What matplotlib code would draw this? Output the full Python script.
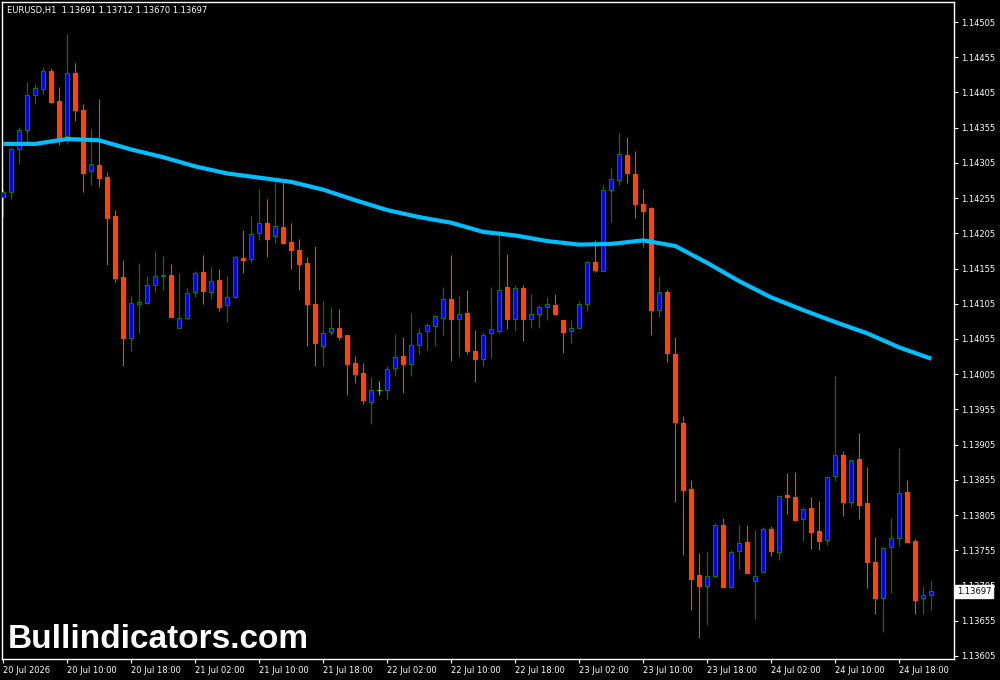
import numpy as np
import matplotlib
matplotlib.use('Agg')
import matplotlib.pyplot as plt

# EURUSD H1 bars, 20 Jul 02:00 -> 24 Jul 22:00
opens = [1.14256, 1.14263, 1.14325, 1.14352, 1.14402, 1.14410, 1.14435, 1.14393, 1.14343, 1.14432,
         1.14380, 1.14293, 1.14302, 1.14285, 1.14230, 1.14143, 1.14057, 1.14104, 1.14106, 1.14131,
         1.14145, 1.14146, 1.14071, 1.14085, 1.14121, 1.14150, 1.14121, 1.14139, 1.14103, 1.14115,
         1.14170, 1.14168, 1.14205, 1.14220, 1.14201, 1.14214, 1.14192, 1.14182, 1.14163, 1.14105,
         1.14045, 1.14065, 1.14071, 1.14060, 1.14021, 1.14007, 1.13965, 1.13983, 1.13983, 1.14014,
         1.14031, 1.14020, 1.14046, 1.14066, 1.14074, 1.14085, 1.14112, 1.14084, 1.14092, 1.14038,
         1.14027, 1.14063, 1.14067, 1.14129, 1.14084, 1.14127, 1.14084, 1.14091, 1.14101, 1.14103,
         1.14082, 1.14067, 1.14071, 1.14105, 1.14165, 1.14152, 1.14267, 1.14280, 1.14316, 1.14289,
         1.14247, 1.14241, 1.14096, 1.14121, 1.14034, 1.13936, 1.13842, 1.13720, 1.13705, 1.13719,
         1.13791, 1.13703, 1.13754, 1.13767, 1.13711, 1.13724, 1.13785, 1.13753, 1.13833, 1.13831,
         1.13799, 1.13815, 1.13782, 1.13769, 1.13861, 1.13890, 1.13824, 1.13884, 1.13822, 1.13738,
         1.13688, 1.13759, 1.13773, 1.13838, 1.13768, 1.13687, 1.13691]
highs = [1.14268, 1.14327, 1.14356, 1.14420, 1.14417, 1.14441, 1.14440, 1.14413, 1.14488, 1.14447,
         1.14389, 1.14353, 1.14396, 1.14292, 1.14238, 1.14167, 1.14116, 1.14163, 1.14145, 1.14180,
         1.14173, 1.14161, 1.14148, 1.14127, 1.14151, 1.14174, 1.14157, 1.14154, 1.14145, 1.14173,
         1.14210, 1.14230, 1.14268, 1.14254, 1.14279, 1.14278, 1.14220, 1.14197, 1.14172, 1.14187,
         1.14109, 1.14100, 1.14097, 1.14060, 1.14031, 1.14021, 1.14001, 1.13995, 1.14016, 1.14062,
         1.14058, 1.14092, 1.14070, 1.14077, 1.14089, 1.14129, 1.14174, 1.14116, 1.14124, 1.14068,
         1.14065, 1.14129, 1.14208, 1.14176, 1.14131, 1.14131, 1.14119, 1.14103, 1.14115, 1.14119,
         1.14082, 1.14082, 1.14109, 1.14166, 1.14195, 1.14273, 1.14298, 1.14348, 1.14342, 1.14322,
         1.14268, 1.14242, 1.14143, 1.14126, 1.14058, 1.13946, 1.13855, 1.13751, 1.13752, 1.13794,
         1.13801, 1.13755, 1.13791, 1.13791, 1.13784, 1.13788, 1.13789, 1.13832, 1.13865, 1.13866,
         1.13816, 1.13831, 1.13825, 1.13860, 1.14002, 1.13896, 1.13884, 1.13921, 1.13873, 1.13774,
         1.13759, 1.13801, 1.13900, 1.13855, 1.13771, 1.13704, 1.13712]
lows = [1.14228, 1.14254, 1.14304, 1.14335, 1.14388, 1.14403, 1.14390, 1.14331, 1.14332, 1.14365,
        1.14264, 1.14274, 1.14271, 1.14160, 1.14136, 1.14016, 1.14038, 1.14064, 1.14104, 1.14122,
        1.14125, 1.14086, 1.14071, 1.14085, 1.14115, 1.14105, 1.14112, 1.14095, 1.14079, 1.14113,
        1.14148, 1.14165, 1.14195, 1.14172, 1.14191, 1.14190, 1.14155, 1.14125, 1.14045, 1.14016,
        1.14017, 1.14060, 1.14054, 1.13976, 1.13993, 1.13962, 1.13935, 1.13976, 1.13970, 1.14003,
        1.13979, 1.14003, 1.14033, 1.14040, 1.14045, 1.14060, 1.14024, 1.14030, 1.14033, 1.13994,
        1.14016, 1.14028, 1.14064, 1.14069, 1.14067, 1.14052, 1.14071, 1.14071, 1.14082, 1.14091,
        1.14035, 1.14050, 1.14071, 1.14095, 1.14150, 1.14152, 1.14221, 1.14273, 1.14277, 1.14227,
        1.14186, 1.14060, 1.14086, 1.14023, 1.13824, 1.13749, 1.13670, 1.13631, 1.13649, 1.13716,
        1.13703, 1.13702, 1.13729, 1.13723, 1.13658, 1.13724, 1.13747, 1.13741, 1.13807, 1.13797,
        1.13768, 1.13757, 1.13756, 1.13763, 1.13854, 1.13803, 1.13817, 1.13800, 1.13702, 1.13665,
        1.13639, 1.13695, 1.13761, 1.13767, 1.13665, 1.13665, 1.13670]
closes = [1.14263, 1.14325, 1.14352, 1.14401, 1.14411, 1.14435, 1.14392, 1.14341, 1.14432, 1.14380,
          1.14291, 1.14303, 1.14284, 1.14227, 1.14142, 1.14057, 1.14106, 1.14107, 1.14131, 1.14145,
          1.14146, 1.14086, 1.14085, 1.14120, 1.14148, 1.14123, 1.14138, 1.14101, 1.14115, 1.14171,
          1.14167, 1.14204, 1.14219, 1.14197, 1.14215, 1.14191, 1.14182, 1.14162, 1.14104, 1.14050,
          1.14064, 1.14071, 1.14058, 1.14020, 1.14006, 1.13969, 1.13983, 1.13983, 1.14013, 1.14029,
          1.14020, 1.14047, 1.14064, 1.14075, 1.14087, 1.14112, 1.14084, 1.14091, 1.14038, 1.14027,
          1.14060, 1.14069, 1.14125, 1.14083, 1.14128, 1.14084, 1.14091, 1.14100, 1.14104, 1.14091,
          1.14065, 1.14071, 1.14104, 1.14164, 1.14153, 1.14266, 1.14282, 1.14317, 1.14290, 1.14246,
          1.14236, 1.14096, 1.14121, 1.14035, 1.13937, 1.13841, 1.13714, 1.13704, 1.13718, 1.13791,
          1.13703, 1.13752, 1.13765, 1.13723, 1.13719, 1.13785, 1.13754, 1.13832, 1.13830, 1.13798,
          1.13814, 1.13781, 1.13768, 1.13859, 1.13890, 1.13824, 1.13883, 1.13820, 1.13739, 1.13688,
          1.13758, 1.13773, 1.13837, 1.13767, 1.13685, 1.13691, 1.13697]

# moving average, read every 4th bar
ma_bars = list(range(0, 117, 4))
ma_vals = [1.14332, 1.14332, 1.14339, 1.14337, 1.14324, 1.14313, 1.14300, 1.14290, 1.14284, 1.14278,
           1.14267, 1.14252, 1.14238, 1.14228, 1.14220, 1.14207, 1.14202, 1.14194, 1.14189, 1.14190,
           1.14195, 1.14187, 1.14163, 1.14137, 1.14114, 1.14096, 1.14079, 1.14063, 1.14043, 1.14027]

xlabels = ['20 Jul 2026', '20 Jul 10:00', '20 Jul 18:00', '21 Jul 02:00', '21 Jul 10:00',
           '21 Jul 18:00', '22 Jul 02:00', '22 Jul 10:00', '22 Jul 18:00', '23 Jul 02:00',
           '23 Jul 10:00', '23 Jul 18:00', '24 Jul 02:00', '24 Jul 10:00', '24 Jul 18:00']
yticks = [1.13605 + 0.0005 * k for k in range(19)]

O = np.array(opens); H = np.array(highs); L = np.array(lows); C = np.array(closes)
x = np.arange(len(O))
bull = C > O
doji = C == O

BULL = '#0000ff'
EDGE = '#008000'
BEAR = '#ff4500'
DOJI = '#00ff00'

plt.rcParams['font.family'] = ['DejaVu Sans']
fig = plt.figure(figsize=(10, 6.8), dpi=100, facecolor='black')
ax = fig.add_axes([0.002, 21 / 680, 0.952, 657 / 680], facecolor='black')

wick_col = np.where(doji, DOJI, np.where(bull, EDGE, BEAR))
ax.vlines(x, L, H, colors=wick_col, linewidth=0.8, zorder=2)

body_h = np.abs(C - O)
body_b = np.minimum(O, C)
face = np.where(doji, DOJI, np.where(bull, BULL, BEAR))
edge = np.where(doji, DOJI, np.where(bull, EDGE, BEAR))
ax.bar(x, body_h, bottom=body_b, width=0.52, color=face, edgecolor=edge, linewidth=0.8, zorder=3)

ax.plot(ma_bars, ma_vals, color='#00bfff', linewidth=3, solid_capstyle='butt', zorder=4)

ax.set_xlim(-0.16, 118.84)
ax.set_ylim(1.136007, 1.145334)

for s in ax.spines.values():
    s.set_color('white')
    s.set_linewidth(1)

ax.yaxis.tick_right()
ax.set_yticks(yticks)
ax.set_yticklabels(['%.5f' % v for v in yticks])
ax.tick_params(axis='y', colors='white', labelsize=6, length=3, width=0.8, pad=2)

ax.set_xticks(range(0, 113, 8))
ax.set_xticklabels(xlabels)
ax.tick_params(axis='x', colors='white', labelsize=6, length=3, width=0.8, pad=2)
for lbl in ax.get_xticklabels():
    lbl.set_horizontalalignment('left')

# current price tag
ax.annotate('1.13697', xy=(1.0, closes[-1]), xycoords=('axes fraction', 'data'),
            xytext=(2, 0), textcoords='offset points', ha='left', va='center',
            fontsize=6, color='black', zorder=10, annotation_clip=False,
            bbox=dict(boxstyle='square,pad=0.25', fc='white', ec='white'))

fig.text(0.007, 1 - 11 / 680, 'EURUSD,H1  1.13691 1.13712 1.13670 1.13697',
         color='white', fontsize=6, va='center', ha='left')

fig.text(0.008, 1 - 648 / 680, 'Bullindicators.com', color='white', fontsize=24,
         fontweight='bold', family='Liberation Sans', va='baseline', ha='left')

fig.savefig('out.png', dpi=100, facecolor='black')
